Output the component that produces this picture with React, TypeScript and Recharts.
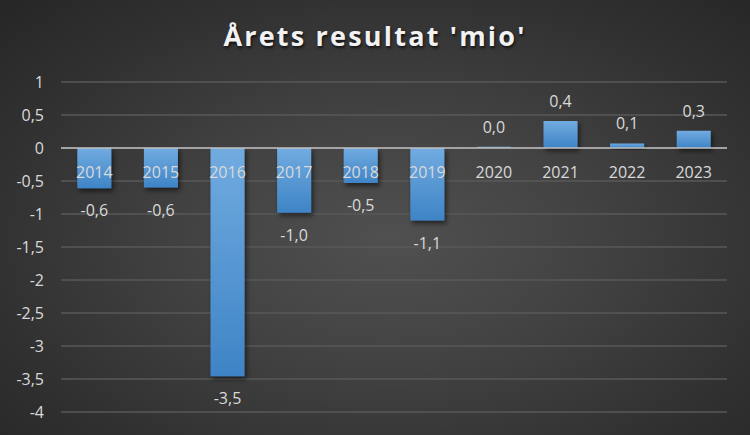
import React from 'react';
import { BarChart, Bar, XAxis, YAxis, CartesianGrid, ReferenceLine, LabelList } from 'recharts';

const years = ['2014', '2015', '2016', '2017', '2018', '2019', '2020', '2021', '2022', '2023'];
const results = [-0.61, -0.6, -3.46, -0.98, -0.53, -1.1, 0.02, 0.41, 0.07, 0.26];
const yTicks = [-4, -3.5, -3, -2.5, -2, -1.5, -1, -0.5, 0, 0.5, 1];
const title = "Årets resultat 'mio'";

const data = years.map((year, i) => ({ year, value: results[i] }));

const fmt = (v: number) => String(v).replace('.', ',');
const fmt1 = (v: number) => v.toFixed(1).replace('.', ',');

const FONT = '"Open Sans", sans-serif';
const TEXT = '#d9d9d9';

const ValueLabel = (props: any) => {
  const { x, y, width, height, value } = props;
  const top = Math.min(y, y + height);
  const bottom = Math.max(y, y + height);
  const cx = x + width / 2;
  const ty = value < 0 ? bottom + 22 : top - 20;
  return (
    <text x={cx} y={ty} textAnchor="middle" dominantBaseline="central" fill={TEXT} fontSize={16} fontFamily={FONT}>
      {fmt1(value)}
    </text>
  );
};

const YearLabel = (props: any) => {
  const { x, y, width, height, value, index } = props;
  const v = results[index];
  const zero = v < 0 ? Math.min(y, y + height) : Math.max(y, y + height);
  return (
    <text x={x + width / 2} y={zero + 24} textAnchor="middle" dominantBaseline="central" fill={TEXT} fontSize={16} fontFamily={FONT}>
      {value}
    </text>
  );
};

export default function App() {
  return (
    <div
      style={{
        position: 'absolute',
        left: 0,
        top: 0,
        width: 750,
        height: 435,
        background: 'radial-gradient(ellipse farthest-corner at 52% 55%, #505050 0%, #434343 35%, #303030 75%, #262626 100%)',
        overflow: 'hidden',
      }}
    >
      <div
        style={{
          position: 'absolute',
          left: 0,
          top: 17,
          width: 750,
          textAlign: 'center',
          color: '#f2f2f2',
          fontFamily: FONT,
          fontWeight: 700,
          fontSize: 27,
          letterSpacing: 2.2,
          lineHeight: '38px',
          textShadow: '1px 2px 3px rgba(0,0,0,0.7)',
        }}
      >
        {title}
      </div>
      <BarChart
        width={750}
        height={435}
        data={data}
        margin={{ top: 82, right: 23, bottom: 23, left: 0 }}
        barCategoryGap="24.5%"
        style={{ position: 'absolute', left: 0, top: 0 }}
      >
        <defs>
          <linearGradient id="barGrad" x1="0" y1="0" x2="0" y2="1">
            <stop offset="0%" stopColor="#71abe0" />
            <stop offset="100%" stopColor="#3e84c6" />
          </linearGradient>
          <filter id="barShadow" x="-30%" y="-30%" width="160%" height="160%">
            <feDropShadow dx="2" dy="3" stdDeviation="2.5" floodColor="#000" floodOpacity="0.55" />
          </filter>
        </defs>
        <CartesianGrid vertical={false} stroke="#595959" strokeWidth={1.3} />
        <XAxis dataKey="year" hide />
        <YAxis
          width={61}
          domain={[-4, 1]}
          ticks={yTicks}
          interval={0}
          axisLine={false}
          tickLine={false}
          tickSize={0}
          tickMargin={17}
          tickFormatter={fmt}
          tick={{ fill: TEXT, fontSize: 16, fontFamily: FONT }}
        />
        <ReferenceLine y={0} stroke="#bfbfbf" strokeWidth={1.5} />
        <Bar dataKey="value" fill="url(#barGrad)" filter="url(#barShadow)" isAnimationActive={false}>
          <LabelList dataKey="year" content={YearLabel} />
          <LabelList dataKey="value" content={ValueLabel} />
        </Bar>
      </BarChart>
    </div>
  );
}
